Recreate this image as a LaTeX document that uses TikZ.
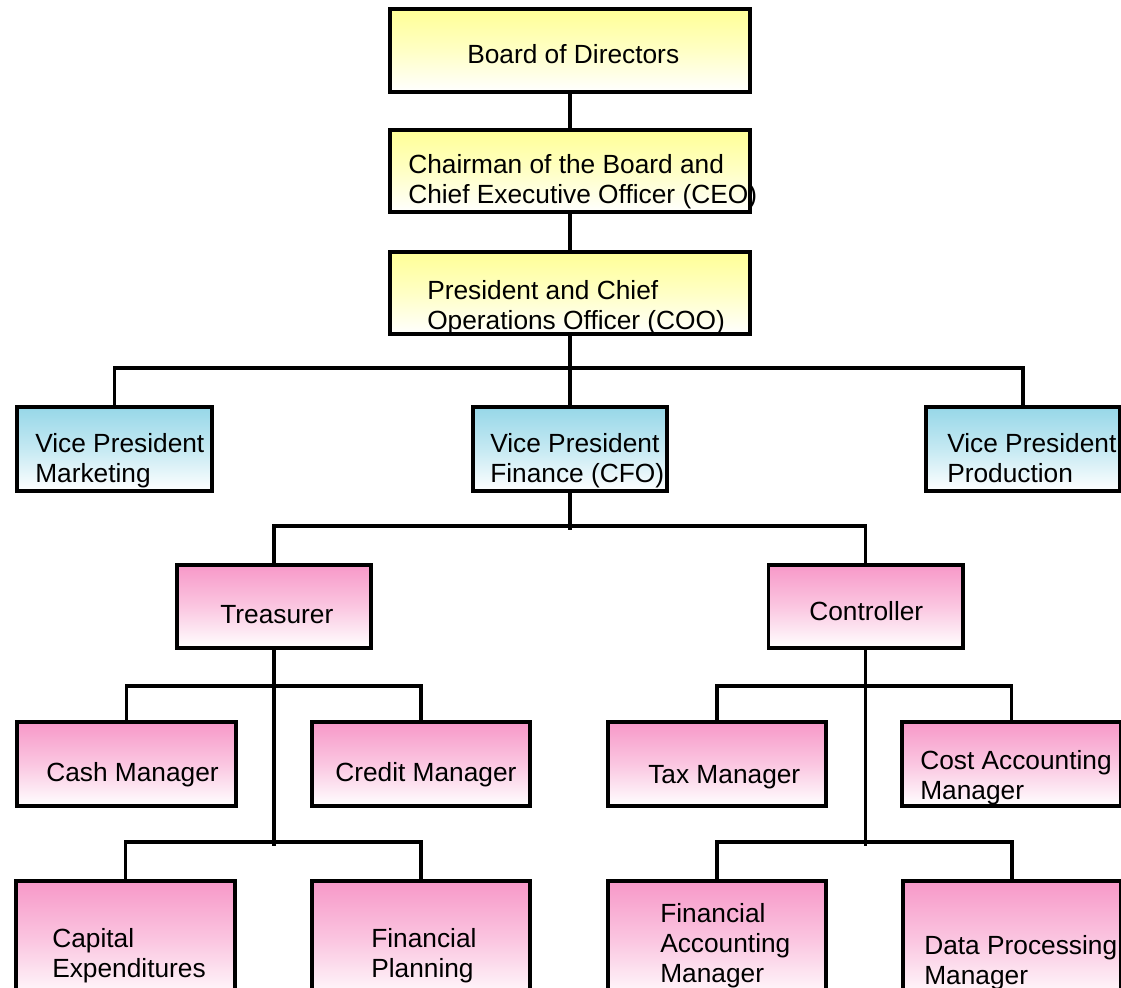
\documentclass[tikz,border=0pt]{standalone}
\usepackage{fontspec}
\setmainfont{Liberation Sans}
\usepackage{tikz}
\definecolor{boardYellow}{RGB}{255,255,150}
\definecolor{vpBlue}{RGB}{150,215,232}
\definecolor{mgrPink}{RGB}{247,152,200}
\tikzset{boxStyle/.style={rectangle, draw=black, line width=2.8pt, inner sep=0pt, bottom color=white}}
\tikzset{topStyle/.style={boxStyle, top color=boardYellow, middle color=boardYellow!55!white, minimum width=9cm, minimum height=2.06cm}}
\tikzset{vpStyle/.style={boxStyle, top color=vpBlue, middle color=vpBlue!55!white, minimum width=4.87cm, minimum height=2.1cm}}
\tikzset{mgrStyle/.style={boxStyle, top color=mgrPink, middle color=mgrPink!55!white, minimum width=4.85cm, minimum height=2.07cm}}
\tikzset{staffStyle/.style={mgrStyle, minimum width=5.47cm, minimum height=2.1cm}}
\tikzset{txtStyle/.style={anchor=base west, align=left, inner sep=0pt, font=\fontsize{18.7pt}{21.3pt}\selectfont}}
\tikzset{wire/.style={draw=black, line width=2.5pt}}

\begin{document}
\begin{tikzpicture}[x=0.025cm, y=-0.025cm]
  \useasboundingbox (0,0) rectangle (1121,988);
  \clip (0,0) rectangle (1121,988);

  % nodes
  \node at (570, 50.5) [topStyle] (board){};
  \node at (570, 171) [topStyle] (ceo){};
  \node at (570, 293) [topStyle] (coo){};
  \node at (114.5, 449) [vpStyle] (marketing){};
  \node at (570, 449) [vpStyle] (finance){};
  \node at (1023, 449) [vpStyle, minimum width=4.85cm] (production){};
  \node at (274, 606.5) [mgrStyle] (treasurer){};
  \node at (865.5, 606.5) [mgrStyle] (controller){};
  \node at (126.5, 764) [staffStyle] (cash){};
  \node at (421, 764) [staffStyle] (credit){};
  \node at (717, 764) [staffStyle] (tax){};
  \node at (1011.5, 764) [staffStyle] (cost){};
  \node at (125.5, 941) [staffStyle, minimum height=3cm] (capex){};
  \node at (421, 941) [staffStyle, minimum height=3cm] (planning){};
  \node at (717, 941) [staffStyle, minimum height=3cm] (finacc){};
  \node at (1012, 941) [staffStyle, minimum height=3cm] (dataproc){};

  % texts (base = last line)
  \node at (467, 63) [txtStyle] (boardTxt){Board of Directors};
  \node at (408, 203) [txtStyle] (ceoTxt){Chairman of the Board and\\Chief Executive Officer (CEO)};
  \node at (427, 329) [txtStyle] (cooTxt){President and Chief\\Operations Officer (COO)};
  \node at (35, 482) [txtStyle] (marketingTxt){Vice President\\Marketing};
  \node at (490, 482) [txtStyle] (financeTxt){Vice President\\Finance (CFO)};
  \node at (947, 482) [txtStyle] (productionTxt){Vice President\\Production};
  \node at (220, 623) [txtStyle] (treasurerTxt){Treasurer};
  \node at (809, 620) [txtStyle] (controllerTxt){Controller};
  \node at (46, 781) [txtStyle] (cashTxt){Cash Manager};
  \node at (335, 781) [txtStyle] (creditTxt){Credit Manager};
  \node at (648, 783) [txtStyle] (taxTxt){Tax Manager};
  \node at (920, 799) [txtStyle] (costTxt){Cost Accounting\\Manager};
  \node at (52, 977) [txtStyle] (capexTxt){Capital\\Expenditures};
  \node at (371, 977) [txtStyle] (planningTxt){Financial\\Planning};
  \node at (660, 982) [txtStyle] (finaccTxt){Financial\\Accounting\\Manager};
  \node at (924, 984) [txtStyle] (dataprocTxt){Data Processing\\Manager};

  % lines
  \draw [wire] (board.south) -- (ceo.north);
  \draw [wire] (ceo.south) -- (coo.north);
  \draw [wire] (coo.south) -- (finance.north);
  \draw [wire] (marketing.north) -- ++(0,-37) -| (production.north);
  \draw [wire] (finance.south) -- ++(0,37);
  \draw [wire] (treasurer.north) -- ++(0,-37) -| (controller.north);
  \draw [wire] (treasurer.south) -- ++(0,196);
  \draw [wire] (cash.north) -- ++(0,-34) -| (credit.north);
  \draw [wire] (capex.north) -- ++(0,-37) -| (planning.north);
  \draw [wire] (controller.south) -- ++(0,196);
  \draw [wire] (tax.north) -- ++(0,-34) -| (cost.north);
  \draw [wire] (finacc.north) -- ++(0,-37) -| (dataproc.north);
\end{tikzpicture}
\end{document}
